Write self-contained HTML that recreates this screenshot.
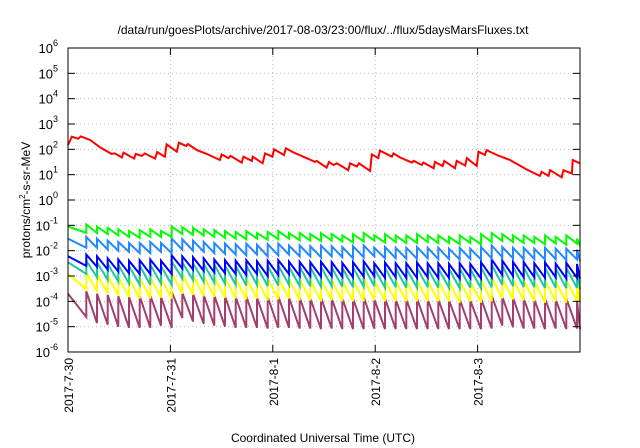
<!DOCTYPE html>
<html><head><meta charset="utf-8"><style>
body{margin:0;background:#fff;}
svg{display:block;font-family:"Liberation Sans",sans-serif;}
</style></head><body>
<svg id="chart" width="640" height="448" viewBox="0 0 640 448" xmlns="http://www.w3.org/2000/svg">
<rect width="640" height="448" fill="#fff"/>
<text x="323" y="34" font-size="12" text-anchor="middle">/data/run/goesPlots/archive/2017-08-03/23:00/flux/../flux/5daysMarsFluxes.txt</text>
<text x="323" y="442" font-size="12" text-anchor="middle">Coordinated Universal Time (UTC)</text>
<text transform="translate(30,200) rotate(-90)" font-size="12" text-anchor="middle">protons/cm<tspan font-size="8" dy="-5">2</tspan><tspan dy="5">-s-sr-MeV</tspan></text>
<g id="grid"></g><g id="series"></g><g id="axes"></g>
</svg>
<script>
const dayLabels=["2017-7-30","2017-7-31","2017-8-1","2017-8-2","2017-8-3"];
const yExponents=[-6,-5,-4,-3,-2,-1,0,1,2,3,4,5,6];
const redTimes=[0,0.9,2.4,3.0,5.2,7.5,10.2,11.0,12.6,13.0,15.5,15.9,17.3,18.0,20.4,20.9,22.7,23.1,25.5,26.0,27.7,28.1,30.2,32.5,35.6,36.0,37.6,38.1,40.7,41.1,43.1,43.3,45.6,46.2,47.9,48.3,50.6,51.1,52.8,55.9,57.9,58.3,60.6,61.2,62.2,63.0,65.7,66.1,67.7,68.2,70.8,71.2,72.7,73.1,75.9,76.3,77.8,80.6,81.0,82.9,83.3,85.7,86.0,87.8,88.2,90.7,91.1,93.1,93.5,95.8,96.2,97.7,98.1,100.5,103.6,107.5,110.6,111.0,112.6,113.0,115.7,116.1,118.1,118.3,120];
const redValues=[150,316,263,324,234,120,66,69,48,74,43,66,55,69,43,78,51,158,81,182,135,162,93,66,38,63,45,55,30,51,35,51,28,69,51,100,60,110,76,45,32,35,19,32,24,28,15,28,21,28,14,63,45,89,51,69,48,30,35,24,30,18,32,22,35,18,35,23,45,22,81,60,93,60,38,16,8.9,13,8.9,15,7.9,15,11,38,28];
const jumpTimes=[0,4.3,6.8,9.3,11.8,14.3,16.8,19.3,21.8,24.3,26.8,29.3,31.8,34.3,36.8,39.3,41.8,44.3,46.8,49.3,51.8,54.3,56.8,59.3,61.8,64.3,66.8,69.3,71.8,74.3,76.8,79.3,81.8,84.3,86.8,89.3,91.8,94.3,96.8,99.3,101.8,104.3,106.8,109.3,111.8,114.3,116.8,119.3];
const greenPeaks=[.09,.11,.09,.08,.07,.06,.065,.07,.06,.09,.085,.08,.07,.065,.06,.055,.06,.05,.055,.06,.05,.05,.045,.05,.045,.04,.045,.05,.04,.045,.04,.04,.045,.04,.04,.035,.04,.035,.045,.05,.045,.04,.04,.035,.04,.035,.04,.03];
const greenTroughs=[.05,.05,.045,.04,.035,.032,.035,.035,.035,.045,.042,.04,.035,.032,.03,.028,.03,.027,.028,.03,.026,.025,.024,.025,.023,.021,.023,.025,.021,.022,.02,.02,.022,.02,.02,.018,.02,.018,.022,.024,.022,.02,.02,.018,.019,.017,.019,.016];
const lightBluePeaks=[.03,.035,.03,.025,.022,.02,.02,.022,.02,.03,.028,.025,.022,.02,.019,.018,.019,.017,.018,.019,.016,.016,.015,.016,.015,.014,.015,.016,.013,.014,.013,.013,.014,.013,.013,.012,.013,.012,.014,.016,.014,.013,.013,.012,.013,.012,.012,.011];
const lightBlueTroughs=[.013,.013,.011,.01,.009,.008,.008,.009,.008,.011,.01,.009,.008,.0075,.007,.0065,.007,.006,.0065,.007,.006,.006,.0055,.006,.0055,.005,.0055,.006,.005,.005,.0048,.0048,.005,.0047,.0047,.0045,.0047,.0045,.005,.0055,.005,.0047,.0047,.0045,.0046,.0043,.0045,.004];
const bluePeaks=[.006,.007,.006,.005,.0045,.004,.0042,.0045,.004,.0065,.006,.0055,.005,.0045,.0042,.004,.0042,.0038,.004,.0042,.0037,.0036,.0035,.0037,.0035,.0033,.0035,.0038,.0032,.0034,.0032,.0032,.0034,.0032,.0032,.003,.0032,.003,.0035,.0045,.004,.0036,.0035,.0032,.0034,.0031,.0033,.003];
const blueTroughs=[.0025,.0023,.0018,.0015,.0013,.0012,.0012,.0013,.0012,.002,.0018,.0016,.0014,.0013,.0012,.0011,.0012,.001,.0011,.0012,.001,.001,.00095,.001,.00095,.0009,.00095,.001,.00085,.0009,.00085,.00085,.0009,.00085,.00085,.0008,.00085,.0008,.0009,.0011,.001,.0009,.0009,.00085,.0009,.0008,.00085,.0008];
const tealPeaks=[.0035,.004,.0035,.003,.0028,.0025,.0026,.0028,.0025,.0038,.0035,.0032,.003,.0028,.0026,.0025,.0026,.0024,.0025,.0026,.0023,.0023,.0022,.0023,.0022,.0021,.0022,.0024,.002,.0021,.002,.002,.0021,.002,.002,.0019,.002,.0019,.0022,.0028,.0025,.0023,.0022,.002,.0021,.002,.0021,.0019];
const tealTroughs=[.0012,.0009,.0007,.0006,.0005,.00045,.00045,.0005,.00045,.0008,.0007,.0006,.00055,.0005,.00045,.00042,.00045,.0004,.00042,.00045,.0004,.0004,.00038,.0004,.00038,.00036,.00038,.0004,.00035,.00036,.00035,.00035,.00036,.00035,.00035,.00033,.00035,.00033,.00036,.00045,.0004,.00037,.00036,.00034,.00035,.00033,.00034,.0003];
const yellowPeaks=[.0012,.0014,.0012,.001,.0009,.0008,.00085,.0009,.0008,.0013,.0012,.0011,.001,.0009,.00085,.0008,.00085,.00075,.0008,.00085,.00075,.00075,.0007,.00075,.0007,.00068,.0007,.00078,.00065,.0007,.00065,.00065,.0007,.00065,.00065,.0006,.00065,.0006,.0007,.0009,.0008,.00075,.0007,.00065,.0007,.00062,.00068,.0006];
const yellowTroughs=[.0003,.00024,.0002,.00017,.00015,.00013,.00013,.00014,.00013,.0002,.00018,.00016,.00015,.00014,.00013,.00012,.00013,.00011,.00012,.00013,.00011,.00011,.0001,.00011,.0001,.0001,.0001,.00011,.0001,.0001,.0001,.0001,.0001,.0001,.0001,.00009,.0001,.00009,.0001,.00013,.00012,.00011,.0001,.00009,.0001,.00009,.0001,.00009];
const magentaPeaks=[.0002,.00025,.0002,.00018,.00016,.00015,.00016,.00017,.00015,.00024,.00022,.0002,.00018,.00017,.00016,.00015,.00016,.00014,.00015,.00016,.00014,.00014,.00013,.00014,.00013,.00013,.00013,.00015,.00012,.00013,.00012,.00012,.00013,.00012,.00012,.00011,.00012,.00011,.00013,.00017,.00015,.00014,.00013,.00012,.00013,.00012,.00013,.00011];
const magentaTroughs=[2.4e-5,1.4e-5,1.2e-5,1e-5,9e-6,9e-6,9e-6,1.1e-5,9e-6,2.2e-5,1.6e-5,1.3e-5,1.1e-5,1e-5,9e-6,9e-6,9e-6,8.5e-6,9e-6,9e-6,8.5e-6,8.5e-6,8e-6,8.5e-6,8e-6,8e-6,8e-6,8.5e-6,8e-6,8e-6,8e-6,8e-6,8e-6,8e-6,8e-6,8e-6,8e-6,8e-6,8.5e-6,1.1e-5,9.5e-6,8.5e-6,8.5e-6,8e-6,8.5e-6,8e-6,8.5e-6,8e-6];

const NS="http://www.w3.org/2000/svg";
const L=68,R=580,T=48,B=352,TMAX=120,YMIN=-6,YMAX=6;
const xS=h=>L+(h/TMAX)*(R-L);
const yS=v=>B-(Math.log10(v)-YMIN)/(YMAX-YMIN)*(B-T);
const yE=e=>B-(e-YMIN)/(YMAX-YMIN)*(B-T);
function mk(tag,attrs,parent){const e=document.createElementNS(NS,tag);for(const k in attrs)e.setAttribute(k,attrs[k]);parent.appendChild(e);return e;}
const grid=document.getElementById('grid'),axes=document.getElementById('axes'),ser=document.getElementById('series');

yExponents.forEach(e=>{
  const y=yE(e);
  if(e>YMIN&&e<YMAX){const g=mk('line',{x1:L,x2:R,y1:y,y2:y,stroke:'#bbb','stroke-width':1,'stroke-dasharray':'1,3'},grid);
  
  }
  mk('line',{x1:L,x2:L+7,y1:y,y2:y,stroke:'#000'},axes);
  mk('line',{x1:R-7,x2:R,y1:y,y2:y,stroke:'#000'},axes);
  const t=mk('text',{x:58,y:y+5,'font-size':13,'text-anchor':'end'},axes);
  
  
  t.textContent='10';
  const s=mk('tspan',{dy:-7,'font-size':9},t);s.textContent=String(e);
});
dayLabels.forEach((d,i)=>{
  const x=xS(i*24);
  if(i>0){const g=mk('line',{x1:x,x2:x,y1:T,y2:B,stroke:'#bbb','stroke-width':1,'stroke-dasharray':'1,3'},grid);
  
  }
  mk('line',{x1:x,x2:x,y1:B,y2:B-7,stroke:'#000'},axes);
  mk('line',{x1:x,x2:x,y1:T,y2:T+7,stroke:'#000'},axes);
  const t=mk('text',{transform:`translate(${x+5},${B+6}) rotate(-90)`,'font-size':12,'text-anchor':'end'},axes);
  
  
  t.textContent=d;
});
const frame=mk('rect',{x:L,y:T,width:R-L,height:B-T,fill:'none',stroke:'#000','stroke-width':1},axes);



function saw(peaks,troughs,color,name){
  let d='';
  for(let i=0;i<jumpTimes.length;i++){
    const t0=jumpTimes[i],t1=i+1<jumpTimes.length?jumpTimes[i+1]:TMAX;
    d+=(i?'L':'M')+xS(t0).toFixed(1)+','+yS(peaks[i]).toFixed(1)+'L'+xS(t1).toFixed(1)+','+yS(troughs[i]).toFixed(1);
  }
  const p=mk('path',{d:d,fill:'none',stroke:color,'stroke-width':2,'stroke-linejoin':'miter'},ser);
  
  
}
saw(magentaPeaks,magentaTroughs,'#a33f6e','series-magenta');
saw(yellowPeaks,yellowTroughs,'#ffff00','series-yellow');
saw(tealPeaks,tealTroughs,'#1ec8a0','series-teal');
saw(bluePeaks,blueTroughs,'#0000ff','series-blue');
saw(lightBluePeaks,lightBlueTroughs,'#2288ff','series-light-blue');
saw(greenPeaks,greenTroughs,'#00ff00','series-green');
let rd='';
redTimes.forEach((t,i)=>{rd+=(i?'L':'M')+xS(t).toFixed(1)+','+yS(redValues[i]).toFixed(1);});
const rp=mk('path',{d:rd,fill:'none',stroke:'#ff0000','stroke-width':2},ser);


</script>
</body></html>
